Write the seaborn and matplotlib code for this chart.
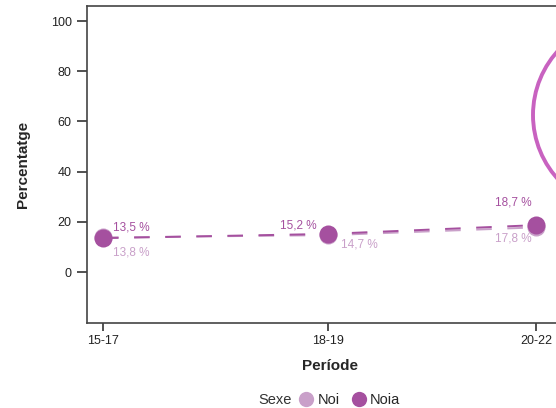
import matplotlib
matplotlib.use("Agg")
import matplotlib.pyplot as plt
from matplotlib.patches import Ellipse
from matplotlib.lines import Line2D
import seaborn as sns
import pandas as pd

# data
periods = ["15-17", "18-19", "20-22"]
period_pos = [0.0, 1.04, 2.0]          # periods are not evenly spaced in the source
noi = [13.8, 14.7, 17.8]
noia = [13.5, 15.2, 18.7]
noi_labels = ["13,8 %", "14,7 %", "17,8 %"]
noia_labels = ["13,5 %", "15,2 %", "18,7 %"]

col_noi = "#c9a0c9"
col_noia = "#a5509f"

df = pd.DataFrame({
    "pos": period_pos * 2,
    "valor": noi + noia,
    "Sexe": ["Noi"] * 3 + ["Noia"] * 3,
})

sns.set_style("white")
plt.rcParams["font.family"] = ["Liberation Sans", "DejaVu Sans"]

fig = plt.figure(figsize=(5.56, 4.08), dpi=100)
ax = fig.add_axes([87 / 556, 85 / 408, 486 / 556, 317 / 408])

sns.lineplot(data=df, x="pos", y="valor", hue="Sexe", style="Sexe",
             palette={"Noi": col_noi, "Noia": col_noia},
             dashes={"Noi": (8, 8), "Noia": (8, 8)},
             markers={"Noi": "o", "Noia": "o"},
             markersize=13, markeredgewidth=0, linewidth=1.4,
             legend=False, ax=ax)

# value labels (offsets in points)
noia_off = [(7, 8, "left"), (-8, 6, "right"), (-3, 16, "right")]
noi_off = [(7, -11, "left"), (9, -7, "left"), (-3, -8, "right")]
for x, v, lab, (dx, dy, ha) in zip(period_pos, noia, noia_labels, noia_off):
    ax.annotate(lab, (x, v), xytext=(dx, dy), textcoords="offset points",
                ha=ha, va="center", fontsize=8.5, color=col_noia)
for x, v, lab, (dx, dy, ha) in zip(period_pos, noi, noi_labels, noi_off):
    ax.annotate(lab, (x, v), xytext=(dx, dy), textcoords="offset points",
                ha=ha, va="center", fontsize=8.5, color=col_noi)

ax.set_xlim(-0.074, 2.171)
ax.set_ylim(-20.3, 106)
ax.set_xticks(period_pos)
ax.set_xticklabels(periods)
ax.set_yticks([0, 20, 40, 60, 80, 100])
ax.tick_params(axis="both", direction="out", bottom=True, left=True,
               colors="#333333", labelcolor="#222222", labelsize=9, width=1.2)
ax.tick_params(axis="y", length=7, pad=4)
ax.tick_params(axis="x", length=6, pad=3)
ax.set_xlabel("Període", fontsize=11, fontweight="bold", labelpad=8)
ax.set_ylabel("Percentatge", fontsize=11, fontweight="bold", labelpad=15)
for s in ax.spines.values():
    s.set_color("#444444")
    s.set_linewidth(1.2)

# legend along the bottom
fig.text(258 / 556, 1 - 400 / 408, "Sexe", fontsize=10.5, color="#333333",
         ha="left", va="center")
handles = [Line2D([], [], marker="o", linestyle="none", markersize=11,
                  markerfacecolor=c, markeredgewidth=0) for c in (col_noi, col_noia)]
fig.legend(handles, ["Noi", "Noia"], loc="center left", ncol=2, frameon=False,
           bbox_to_anchor=(297 / 556, 1 - 400 / 408), fontsize=10.5,
           handletextpad=0.2, columnspacing=0.7, borderaxespad=0, borderpad=0,
           handlelength=1.2)

# highlight circle partly outside the crop
fig.patches.append(Ellipse((628 / 556, 1 - 115 / 408), 190 / 556, 190 / 408,
                           transform=fig.transFigure, fill=False,
                           edgecolor="#c862c0", linewidth=2.8, clip_on=False))

fig.savefig("out.png", dpi=100)
